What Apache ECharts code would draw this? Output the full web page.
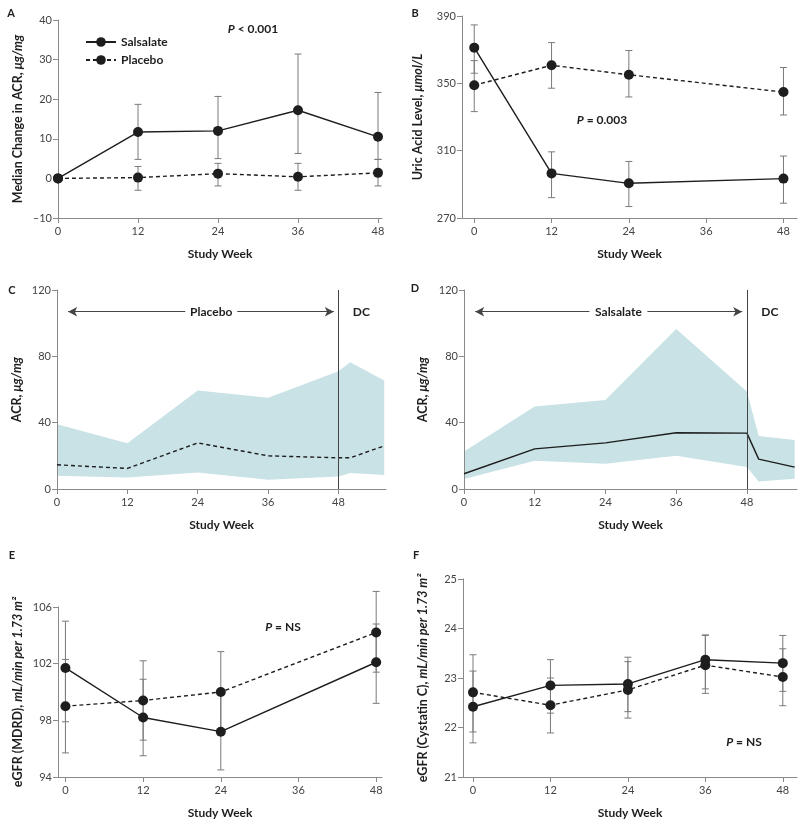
<!DOCTYPE html>
<html>
<head>
<meta charset="utf-8">
<script src="https://cdn.jsdelivr.net/npm/echarts@6/dist/echarts.min.js"></script>
<style>
  html, body { margin: 0; padding: 0; background: #fff; }
  #chart { width: 800px; height: 825px; }
</style>
</head>
<body>
<div id="chart"></div>
<script>
// ---- data ----
const weekTicks = [0, 12, 24, 36, 48]

// A: median change in ACR
const aWeeks = [0, 12, 24, 36, 48]
const aSalsalate = [0, 11.7, 12.0, 17.2, 10.5]
const aPlacebo = [0, 0.2, 1.2, 0.4, 1.4]
const aErrWeeks = [12, 24, 36, 48]
const aSalsalateLow = [4.8, 5.0, 6.3, 4.8]
const aSalsalateHigh = [18.7, 20.7, 31.4, 21.7]
const aPlaceboLow = [-3.0, -1.9, -3.0, -1.9]
const aPlaceboHigh = [3.0, 3.8, 3.8, 4.8]
const aYTicks = [-10, 0, 10, 20, 30, 40]

// B: uric acid
const bWeeks = [0, 12, 24, 48]
const bSalsalate = [371.2, 296.5, 290.6, 293.4]
const bSalsalateLow = [356.0, 282.1, 276.8, 278.8]
const bSalsalateHigh = [384.7, 309.3, 303.6, 306.8]
const bPlacebo = [348.9, 360.7, 355.1, 344.8]
const bPlaceboLow = [333.2, 347.1, 341.9, 331.2]
const bPlaceboHigh = [363.5, 374.2, 369.5, 359.4]
const bYTicks = [270, 310, 350, 390]

// C: ACR, placebo arm (median and band)
const cWeeks = [0, 12, 24, 36, 48, 50, 55.8]
const cMedian = [14.6, 12.4, 27.8, 20.0, 18.8, 18.8, 26.0]
const cLower = [8.0, 7.0, 10.0, 5.6, 7.6, 9.6, 8.4]
const cUpper = [39.0, 27.6, 59.4, 55.0, 71.0, 76.4, 65.4]

// D: ACR, salsalate arm
const dWeeks = [0, 12, 24, 36, 48, 50, 56.1]
const dMedian = [9.2, 24.2, 27.8, 33.9, 33.7, 18.0, 13.2]
const dLower = [6.0, 17.0, 15.2, 20.0, 13.2, 4.5, 6.2]
const dUpper = [22.6, 49.7, 53.7, 96.5, 58.8, 32.0, 29.6]
const acrTicks = [0, 40, 80, 120]

// E: eGFR (MDRD)
const eWeeks = [0, 12, 24, 48]
const eSalsalate = [101.7, 98.2, 97.2, 102.1]
const eSalsalateLow = [97.9, 95.5, 94.5, 99.2]
const eSalsalateHigh = [105.0, 100.9, 99.9, 104.8]
const ePlacebo = [99.0, 99.4, 100.0, 104.2]
const ePlaceboLow = [95.7, 96.6, 97.2, 101.4]
const ePlaceboHigh = [102.3, 102.2, 102.85, 107.1]
const eYTicks = [94, 98, 102, 106]

// F: eGFR (cystatin C)
const fWeeks = [0, 12, 24, 36, 48]
const fSalsalate = [22.42, 22.85, 22.88, 23.37, 23.30]
const fSalsalateLow = [21.69, 22.29, 22.32, 22.78, 22.73]
const fSalsalateHigh = [23.14, 23.37, 23.42, 23.87, 23.86]
const fPlacebo = [22.71, 22.45, 22.76, 23.26, 23.02]
const fPlaceboLow = [21.91, 21.89, 22.19, 22.69, 22.44]
const fPlaceboHigh = [23.47, 23.00, 23.33, 23.86, 23.59]
const fYTicks = [21, 22, 23, 24, 25]

// ---- styles ----
const FONT = 'Lato'
const INK = '#1e1e1e'
const AXIS = '#8a8a8a'
const BAND = '#c8e2e5'
const ERR = '#7a7a7a'

const pairs = (xs, ys) => xs.map((x, i) => [x, ys[i]])
const bars = (xs, lo, hi) => xs.map((x, i) => [x, lo[i], hi[i]])

const grids = [
  { left: 58, top: 20, width: 324, height: 198 },     // A
  { left: 462, top: 16, width: 335, height: 202 },    // B
  { left: 57, top: 290, width: 329, height: 199 },    // C
  { left: 464, top: 290, width: 333, height: 199 },   // D
  { left: 58, top: 607, width: 324, height: 170 },    // E
  { left: 463, top: 579, width: 334, height: 198 }    // F
]

function xAx (gridIndex, min, max) {
  return {
    type: 'value',
    gridIndex,
    min,
    max,
    name: 'Study Week',
    nameLocation: 'middle',
    nameGap: 30,
    nameTextStyle: { fontFamily: FONT, fontWeight: 'bold', fontSize: 12, color: INK },
    axisLine: { show: true, onZero: false, lineStyle: { color: AXIS, width: 1 } },
    axisTick: { show: true, length: 5, customValues: weekTicks, lineStyle: { color: AXIS } },
    axisLabel: { customValues: weekTicks, margin: 8, fontFamily: FONT, fontSize: 11, color: '#444' },
    splitLine: { show: false }
  }
}

function yAx (gridIndex, min, max, ticks, name, gap) {
  return {
    type: 'value',
    gridIndex,
    min,
    max,
    name,
    nameLocation: 'middle',
    nameGap: gap,
    nameTextStyle: {
      fontFamily: FONT,
      fontWeight: 'bold',
      fontSize: 12.5,
      color: INK,
      rich: { i: { fontFamily: FONT, fontWeight: 'bold', fontStyle: 'italic', fontSize: 12.5, color: INK } }
    },
    axisLine: { show: true, onZero: false, lineStyle: { color: AXIS, width: 1 } },
    axisTick: { show: true, length: 5, customValues: ticks, lineStyle: { color: AXIS } },
    axisLabel: {
      customValues: ticks,
      margin: 6,
      fontFamily: FONT,
      fontSize: 11,
      color: '#444',
      formatter: v => String(v).replace('-', '\u2013')
    },
    splitLine: { show: false }
  }
}

function lineSeries (name, idx, data, dashed) {
  return {
    name,
    type: 'line',
    xAxisIndex: idx,
    yAxisIndex: idx,
    data,
    symbol: 'circle',
    symbolSize: 10,
    z: 3,
    itemStyle: { color: INK },
    lineStyle: { color: INK, width: 1.4, type: dashed ? [4, 3] : 'solid' },
    emphasis: { disabled: true }
  }
}

function errRender (params, api) {
  const x = api.value(0)
  const lo = api.coord([x, api.value(1)])
  const hi = api.coord([x, api.value(2)])
  const w = 3.5
  const st = { stroke: ERR, lineWidth: 1 }
  return {
    type: 'group',
    children: [
      { type: 'line', shape: { x1: lo[0], y1: lo[1], x2: hi[0], y2: hi[1] }, style: st },
      { type: 'line', shape: { x1: lo[0] - w, y1: lo[1], x2: lo[0] + w, y2: lo[1] }, style: st },
      { type: 'line', shape: { x1: hi[0] - w, y1: hi[1], x2: hi[0] + w, y2: hi[1] }, style: st }
    ]
  }
}

function errSeries (idx, data) {
  return {
    type: 'custom',
    xAxisIndex: idx,
    yAxisIndex: idx,
    data,
    z: 1,
    clip: false,
    silent: true,
    renderItem: errRender
  }
}

// band polygon: upper edge left->right, lower edge back
function bandSeries (idx, xs, lower, upper) {
  return {
    type: 'custom',
    xAxisIndex: idx,
    yAxisIndex: idx,
    data: bars(xs, lower, upper),
    z: 0,
    silent: true,
    renderItem (params, api) {
      if (params.dataIndex !== 0) return null
      const top = xs.map((x, i) => api.coord([x, upper[i]]))
      const bottom = xs.map((x, i) => api.coord([x, lower[i]])).reverse()
      return { type: 'polygon', shape: { points: top.concat(bottom) }, style: { fill: BAND } }
    }
  }
}

function dcMarks (idx, armLabel, labelWeek, labelW) {
  return {
    type: 'line',
    xAxisIndex: idx,
    yAxisIndex: idx,
    data: [],
    z: 4,
    silent: true,
    markLine: {
      silent: true,
      animation: false,
      label: { show: false },
      data: [
        [{ coord: [48, 0], symbol: 'none' }, { coord: [48, 120], symbol: 'none' }],
        [{ coord: [1.9, 106.9], symbol: 'arrow' }, { coord: [47.2, 106.9], symbol: 'arrow' }]
      ],
      symbolSize: [7, 9],
      lineStyle: { color: '#444', width: 1, type: 'solid' }
    },
    markPoint: {
      silent: true,
      animation: false,
      data: [
        {
          coord: [labelWeek, 106.9],
          symbol: 'rect',
          symbolSize: [labelW, 14],
          itemStyle: { color: '#fff' },
          label: { show: true, position: 'inside', formatter: armLabel, fontFamily: FONT, fontWeight: 'bold', fontSize: 12, color: INK }
        },
        {
          coord: [51.9, 106.9],
          symbol: 'rect',
          symbolSize: [1, 1],
          itemStyle: { color: 'rgba(0,0,0,0)' },
          label: { show: true, position: 'inside', formatter: 'DC', fontFamily: FONT, fontWeight: 'bold', fontSize: 12, color: INK }
        }
      ]
    }
  }
}

function panelText (x, y, text, size) {
  return {
    type: 'text',
    x,
    y,
    style: {
      text,
      fontFamily: FONT,
      fontWeight: 'bold',
      fontSize: size || 12,
      fill: INK,
      align: 'center',
      verticalAlign: 'middle',
      rich: { i: { fontFamily: FONT, fontWeight: 'bold', fontStyle: 'italic', fontSize: size || 12, fill: INK } }
    }
  }
}

const ACR = 'ACR, {i|\u03bcg/mg}'

const option = {
  animation: false,
  grid: grids,
  legend: {
    data: ['Salsalate', 'Placebo'],
    orient: 'vertical',
    left: 80,
    top: 31,
    itemWidth: 30,
    itemHeight: 12,
    itemGap: 6,
    selectedMode: false,
    textStyle: { fontFamily: FONT, fontWeight: 'bold', fontSize: 12, color: INK }
  },
  xAxis: [
    xAx(0, 0, 48.6),
    xAx(1, -1.9, 50.1),
    xAx(2, 0, 56.1),
    xAx(3, 0, 56.5),
    xAx(4, -1.15, 48.9),
    xAx(5, -1.55, 50.2)
  ],
  yAxis: [
    yAx(0, -10, 40, aYTicks, 'Median Change in ACR, {i|\u03bcg/mg}', 34),
    yAx(1, 270, 390, bYTicks, 'Uric Acid Level, {i|\u03bcmol/L}', 38),
    yAx(2, 0, 120, acrTicks, ACR, 34),
    yAx(3, 0, 120, acrTicks, ACR, 35),
    yAx(4, 94, 106, eYTicks, 'eGFR (MDRD), {i|mL/min per 1.73 m\u00b2}', 34),
    yAx(5, 21, 25, fYTicks, 'eGFR (Cystatin C), {i|mL/min per 1.73 m\u00b2}', 34)
  ],
  series: [
    // A
    errSeries(0, bars(aErrWeeks, aSalsalateLow, aSalsalateHigh)),
    errSeries(0, bars(aErrWeeks, aPlaceboLow, aPlaceboHigh)),
    lineSeries('Salsalate', 0, pairs(aWeeks, aSalsalate), false),
    lineSeries('Placebo', 0, pairs(aWeeks, aPlacebo), true),
    // B
    errSeries(1, bars(bWeeks, bSalsalateLow, bSalsalateHigh)),
    errSeries(1, bars(bWeeks, bPlaceboLow, bPlaceboHigh)),
    lineSeries('Salsalate', 1, pairs(bWeeks, bSalsalate), false),
    lineSeries('Placebo', 1, pairs(bWeeks, bPlacebo), true),
    // C
    bandSeries(2, cWeeks, cLower, cUpper),
    {
      name: 'Placebo median',
      type: 'line',
      xAxisIndex: 2,
      yAxisIndex: 2,
      data: pairs(cWeeks, cMedian),
      symbol: 'none',
      z: 3,
      lineStyle: { color: INK, width: 1.4, type: [4, 3] }
    },
    dcMarks(2, 'Placebo', 26.3, 52),
    // D
    bandSeries(3, dWeeks, dLower, dUpper),
    {
      name: 'Salsalate median',
      type: 'line',
      xAxisIndex: 3,
      yAxisIndex: 3,
      data: pairs(dWeeks, dMedian),
      symbol: 'none',
      z: 3,
      lineStyle: { color: INK, width: 1.4 }
    },
    dcMarks(3, 'Salsalate', 26.2, 58),
    // E
    errSeries(4, bars(eWeeks, eSalsalateLow, eSalsalateHigh)),
    errSeries(4, bars(eWeeks, ePlaceboLow, ePlaceboHigh)),
    lineSeries('Salsalate', 4, pairs(eWeeks, eSalsalate), false),
    lineSeries('Placebo', 4, pairs(eWeeks, ePlacebo), true),
    // F
    errSeries(5, bars(fWeeks, fSalsalateLow, fSalsalateHigh)),
    errSeries(5, bars(fWeeks, fPlaceboLow, fPlaceboHigh)),
    lineSeries('Salsalate', 5, pairs(fWeeks, fSalsalate), false),
    lineSeries('Placebo', 5, pairs(fWeeks, fPlacebo), true)
  ],
  graphic: [
    panelText(11, 13, 'A', 11),
    panelText(415, 13, 'B', 11),
    panelText(12, 290, 'C', 11),
    panelText(415, 288, 'D', 11),
    panelText(12, 555, 'E', 11),
    panelText(416, 555, 'F', 11),
    panelText(253, 29, '{i|P} < 0.001'),
    panelText(602, 120, '{i|P} = 0.003'),
    panelText(283, 627, '{i|P} = NS'),
    panelText(744, 742, '{i|P} = NS')
  ]
}

const myChart = echarts.init(document.getElementById('chart'))
myChart.setOption(option)
</script>
</body>
</html>
